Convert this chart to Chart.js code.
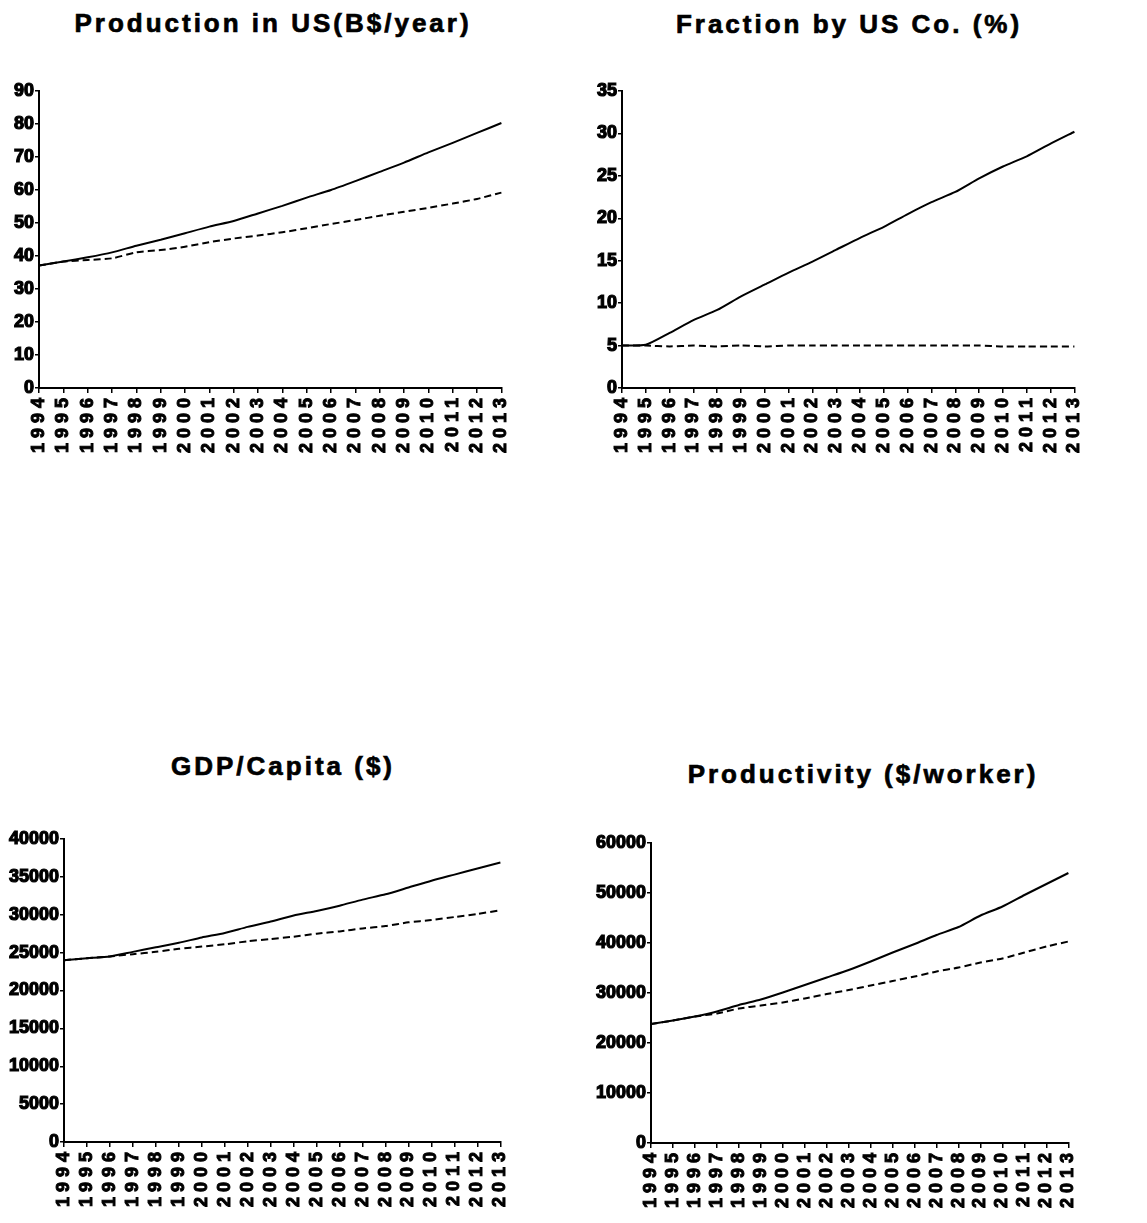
<!DOCTYPE html>
<html>
<head>
<meta charset="utf-8">
<script src="https://cdn.jsdelivr.net/npm/chart.js@4.4.1/dist/chart.umd.min.js"></script>
<style>
  body { margin: 0; background: #fff; }
  #page { position: relative; width: 1147px; height: 1223px; overflow: hidden; }
  .title {
    position: absolute;
    transform: translateX(-50%);
    font: bold 26px "Liberation Sans", Arial, sans-serif;
    line-height: 1;
    letter-spacing: 3px;
    white-space: nowrap;
    color: #000;
    -webkit-text-stroke: 0.7px #000;
  }
  canvas { position: absolute; }
</style>
</head>
<body>
<div id="page">
  <div class="title" style="left:273px; top:10px">Production in US(B$/year)</div>
  <div class="title" style="left:849px; top:11px">Fraction by US Co. (%)</div>
  <div class="title" style="left:283px; top:753px">GDP/Capita ($)</div>
  <div class="title" style="left:863px; top:761px">Productivity ($/worker)</div>
  <canvas id="chartProduction"></canvas>
  <canvas id="chartFraction"></canvas>
  <canvas id="chartGdp"></canvas>
  <canvas id="chartProductivity"></canvas>
</div>
<script>
const years = ['1994', '1995', '1996', '1997', '1998', '1999', '2000', '2001', '2002', '2003',
               '2004', '2005', '2006', '2007', '2008', '2009', '2010', '2011', '2012', '2013'];

// Production in US (B$/year)
const productionScenario = [37.1, 38.3, 39.6, 41.1, 43.1, 44.9, 46.9, 48.9, 50.6, 52.9,
                            55.2, 57.7, 60.0, 62.7, 65.5, 68.3, 71.4, 74.3, 77.3, 80.3];
const productionBaseline = [37.1, 38.3, 38.8, 39.3, 41.1, 41.8, 42.8, 44.2, 45.3, 46.2,
                            47.2, 48.4, 49.7, 50.9, 52.2, 53.4, 54.6, 55.9, 57.3, 59.2];

// Fraction produced by US companies (%)
const fractionScenario = [5.0, 5.1, 6.5, 8.0, 9.2, 10.8, 12.2, 13.6, 14.9, 16.3,
                          17.7, 19.0, 20.5, 21.9, 23.1, 24.7, 26.1, 27.3, 28.8, 30.2];
const fractionBaseline = [5.0, 5.0, 4.9, 5.0, 4.9, 5.0, 4.9, 5.0, 5.0, 5.0,
                          5.0, 5.0, 5.0, 5.0, 5.0, 5.0, 4.9, 4.9, 4.9, 4.9];

// GDP per capita ($)
const gdpScenario = [24000, 24260, 24500, 25100, 25700, 26300, 27000, 27600, 28400, 29100,
                     29900, 30500, 31200, 32000, 32700, 33600, 34500, 35300, 36100, 36900];
const gdpBaseline = [24000, 24260, 24500, 24800, 25100, 25500, 25800, 26100, 26500, 26800,
                     27100, 27500, 27800, 28200, 28500, 29000, 29300, 29700, 30100, 30600];

// Productivity ($/worker)
const productivityScenario = [23800, 24500, 25300, 26300, 27600, 28700, 30100, 31600, 33100, 34600,
                              36300, 38100, 39800, 41600, 43200, 45500, 47300, 49600, 51800, 54000];
const productivityBaseline = [23800, 24500, 25300, 25900, 26900, 27500, 28100, 28900, 29800, 30600,
                              31500, 32400, 33300, 34300, 35100, 36100, 36900, 38100, 39300, 40300];

const yTicks = {
  production: { max: 90, step: 10 },
  fraction: { max: 35, step: 5 },
  gdp: { max: 40000, step: 5000 },
  productivity: { max: 60000, step: 10000 }
};

const FONT = '"Liberation Sans", Arial, sans-serif';

// spreads out the rotated year labels a little
const yearSpacing = {
  id: 'yearSpacing',
  beforeDraw(chart) {
    const scale = chart.scales.x;
    if (scale._spaced) return;
    const draw = scale.drawLabels;
    scale.drawLabels = function(area) {
      chart.ctx.save();
      chart.ctx.letterSpacing = '5px';
      draw.call(this, area);
      chart.ctx.restore();
    };
    scale._spaced = true;
  }
};

// plot box is given in page pixels: left, top, right, bottom
function makeChart(id, box, ticks, scenario, baseline) {
  const yWidth = Math.min(box.left, 60);
  const padTop = 15, padRight = 20, xHeight = 80;
  const canvas = document.getElementById(id);
  canvas.width = box.right - box.left + yWidth + padRight;
  canvas.height = box.bottom - box.top + padTop + xHeight;
  canvas.style.left = (box.left - yWidth) + 'px';
  canvas.style.top = (box.top - padTop) + 'px';

  return new Chart(canvas, {
    type: 'line',
    data: {
      labels: years,
      datasets: [{
        data: scenario,
        borderColor: '#000',
        borderWidth: 2,
        pointRadius: 0,
        tension: 0.2
      }, {
        data: baseline,
        borderColor: '#000',
        borderWidth: 2,
        borderDash: [7, 4],
        pointRadius: 0,
        tension: 0.2
      }]
    },
    options: {
      responsive: false,
      animation: false,
      layout: { padding: { top: padTop, right: padRight, left: 0, bottom: 0 } },
      plugins: { legend: { display: false }, tooltip: { enabled: false } },
      scales: {
        x: {
          offset: false,
          border: { color: '#000', width: 2 },
          grid: { drawOnChartArea: false, color: '#000', lineWidth: 1.5, tickLength: 5 },
          ticks: {
            color: '#000',
            font: { family: FONT, size: 18, weight: 'bold' },
            textStrokeColor: '#000',
            textStrokeWidth: 1,
            minRotation: 90,
            maxRotation: 90,
            autoSkip: false,
            padding: 0
          },
          afterFit(scale) { scale.height = xHeight; }
        },
        y: {
          min: 0,
          max: ticks.max,
          border: { color: '#000', width: 2 },
          grid: { drawOnChartArea: false, color: '#000', lineWidth: 1.5, tickLength: 4 },
          ticks: {
            stepSize: ticks.step,
            color: '#000',
            font: { family: FONT, size: 18, weight: 'bold' },
            textStrokeColor: '#000',
            textStrokeWidth: 1.2,
            padding: 1,
            callback: value => String(value)
          },
          afterFit(scale) { scale.width = yWidth; }
        }
      }
    },
    plugins: [yearSpacing]
  });
}

makeChart('chartProduction', { left: 39, top: 91, right: 503, bottom: 388 },
  yTicks.production, productionScenario, productionBaseline);
makeChart('chartFraction', { left: 622, top: 91, right: 1076, bottom: 388 },
  yTicks.fraction, fractionScenario, fractionBaseline);
makeChart('chartGdp', { left: 64, top: 839, right: 502, bottom: 1142 },
  yTicks.gdp, gdpScenario, gdpBaseline);
makeChart('chartProductivity', { left: 651, top: 843, right: 1070, bottom: 1143 },
  yTicks.productivity, productivityScenario, productivityBaseline);
</script>
</body>
</html>
